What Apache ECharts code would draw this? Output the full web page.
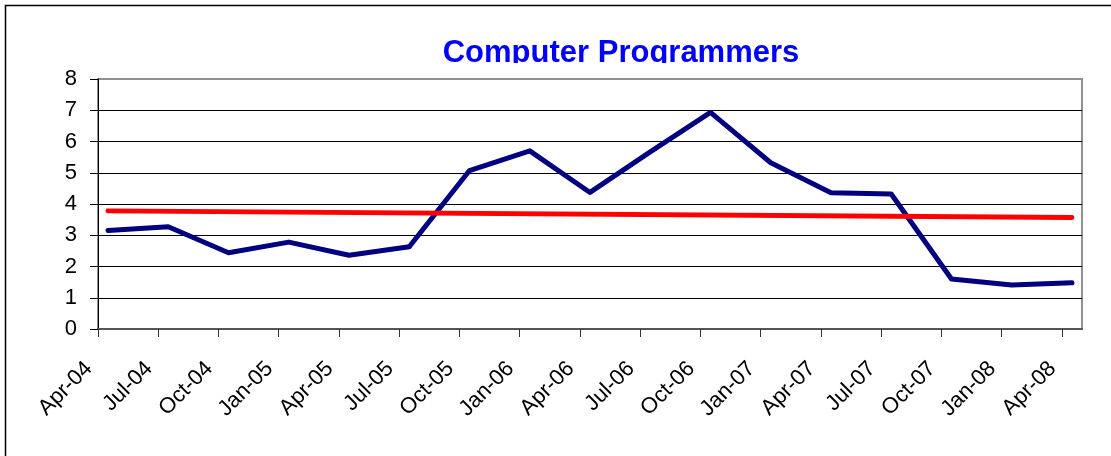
<!DOCTYPE html>
<html>
<head>
<meta charset="utf-8">
<script src="https://cdn.jsdelivr.net/npm/echarts@6/dist/echarts.min.js"></script>
<style>
  html,body{margin:0;padding:0;background:#fff;}
  #chart{width:1111px;height:456px;}
</style>
</head>
<body>
<div id="chart"></div>
<script>
// quarter labels on the date axis
var tickLabels = ['Apr-04','Jul-04','Oct-04','Jan-05','Apr-05','Jul-05','Oct-05','Jan-06','Apr-06',
                  'Jul-06','Oct-06','Jan-07','Apr-07','Jul-07','Oct-07','Jan-08','Apr-08'];
// values per quarter (plotted at mid-month)
var programmers = [3.15, 3.27, 2.44, 2.78, 2.36, 2.63, 5.07, 5.70, 4.37, 5.67, 6.93, 5.32, 4.36, 4.32, 1.60, 1.41, 1.48];
// linear trend, first and last point
var trendEnds = [3.78, 3.57];
var yTicks = [0, 1, 2, 3, 4, 5, 6, 7, 8];

var FONT = '"Liberation Sans", Arial, sans-serif';

// x axis in months since Apr-04
var tickMonths = tickLabels.map(function(l, i){ return i * 3; });
var lineData = programmers.map(function(v, i){ return [i * 3 + 0.5, v]; });
var trendData = [[0.5, trendEnds[0]], [(programmers.length - 1) * 3 + 0.5, trendEnds[1]]];

var myChart = echarts.init(document.getElementById('chart'));
var option = {
  animation: false,
  backgroundColor: '#fff',
  title: {
    text: 'Computer Programmers',
    left: 616,
    textAlign: 'center',
    top: 33,
    textStyle: { color: '#0000ff', fontSize: 31, fontWeight: 'bold', fontFamily: FONT }
  },
  graphic: [
    // outer frame (only top and left are inside the picture)
    { type: 'rect', z: 100, shape: { x: 5.5, y: 5.5, width: 1200, height: 600 },
      style: { fill: 'none', stroke: '#000', lineWidth: 1.5 } },
    // title is cut at the bottom in the original
    { type: 'rect', z: 100, shape: { x: 420, y: 63, width: 400, height: 14 },
      style: { fill: '#fff' } }
  ],
  grid: {
    left: 98, right: 29, top: 79, bottom: 127,
    show: true, borderColor: '#909090', borderWidth: 2, backgroundColor: '#fff'
  },
  xAxis: {
    type: 'value',
    min: 0,
    max: 49,
    axisLine: { show: true, lineStyle: { color: '#555', width: 2 } },
    axisTick: { show: true, length: 8, customValues: tickMonths, lineStyle: { color: '#333', width: 1 } },
    splitLine: { show: false },
    axisLabel: {
      customValues: tickMonths,
      rotate: 45,
      margin: 27,
      padding: [0, 13, 0, 0],
      color: '#000',
      fontSize: 22,
      fontFamily: FONT,
      formatter: function(v){ return tickLabels[Math.round(v / 3)] || ''; }
    }
  },
  yAxis: {
    type: 'value',
    min: yTicks[0],
    max: yTicks[yTicks.length - 1],
    interval: 1,
    axisLine: { show: true, lineStyle: { color: '#000', width: 1 } },
    axisTick: { show: true, length: 8, lineStyle: { color: '#000' } },
    splitLine: { show: true, showMinLine: false, showMaxLine: false, lineStyle: { color: '#000', width: 1 } },
    axisLabel: { margin: 21, color: '#000', fontSize: 22, fontFamily: FONT }
  },
  series: [
    {
      name: 'Computer Programmers',
      type: 'line',
      data: lineData,
      symbol: 'none',
      lineStyle: { color: '#000080', width: 5, cap: 'round', join: 'round' },
      z: 3
    },
    {
      name: 'Trend',
      type: 'line',
      data: trendData,
      symbol: 'none',
      lineStyle: { color: '#ff0000', width: 5, cap: 'round' },
      z: 4
    }
  ]
};
myChart.setOption(option);
</script>
</body>
</html>
